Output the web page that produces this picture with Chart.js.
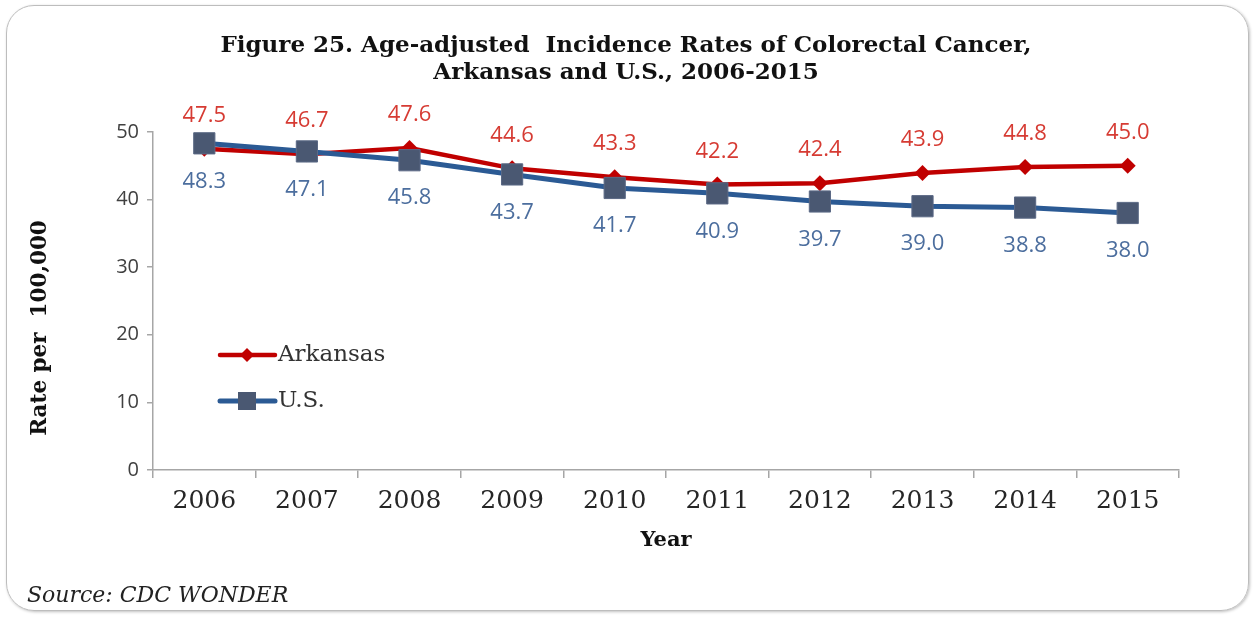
<!DOCTYPE html>
<html><head><meta charset="utf-8">
<script src="https://cdn.jsdelivr.net/npm/chart.js@4.4.1/dist/chart.umd.min.js"></script>
<style>
html,body{margin:0;padding:0;background:#fff;}
#wrap{position:relative;width:1255px;height:617px;overflow:hidden;}
#frame{position:absolute;left:6px;top:5px;width:1243px;height:606px;border:1.5px solid #bdbdbd;border-radius:28px;box-shadow:1px 1px 3px rgba(0,0,0,0.25);box-sizing:border-box;}
#c{position:absolute;left:0;top:0;}
#source{position:absolute;left:27px;top:582px;font-family:"DejaVu Serif";font-style:italic;font-size:22px;color:#222;white-space:nowrap;}
</style></head>
<body>
<div id="wrap">
  <div id="frame"></div>
  <canvas id="c" width="1255" height="617"></canvas>
  <div id="source"></div>
</div>
<script>
const years = ['2006','2007','2008','2009','2010','2011','2012','2013','2014','2015'];
const arkansas = [47.5, 46.7, 47.6, 44.6, 43.3, 42.2, 42.4, 43.9, 44.8, 45.0];
const us = [48.3, 47.1, 45.8, 43.7, 41.7, 40.9, 39.7, 39.0, 38.8, 38.0];
const seriesNames = ['Arkansas', 'U.S.'];
const yMin = 0, yMax = 50, yStep = 10;
const titleLines = ['Figure 25. Age-adjusted  Incidence Rates of Colorectal Cancer,', 'Arkansas and U.S., 2006-2015'];
const xTitle = 'Year';
const yTitle = 'Rate per  100,000';
const sourceText = 'Source: CDC WONDER';

document.getElementById('source').textContent = sourceText;

const RED = '#C00000', RED_LABEL = '#D63B33';
const BLUE = '#2B5A94', BLUE_MARK = '#4A5872', BLUE_LABEL = '#4C6E9E';

const labelPlugin = {
  id: 'valueLabels',
  afterDatasetsDraw(chart) {
    const ctx = chart.ctx;
    ctx.save();
    ctx.font = '22px "Open Sans"';
    ctx.textAlign = 'center';
    ctx.textBaseline = 'middle';
    chart.data.datasets.forEach((ds, i) => {
      const meta = chart.getDatasetMeta(i);
      const above = ds.labelPos === 'above';
      ctx.fillStyle = ds.labelColor;
      meta.data.forEach((pt, j) => {
        const v = ds.data[j];
        ctx.fillText(v.toFixed(1), pt.x, pt.y + (above ? -33 : 38));
      });
    });
    ctx.restore();
  }
};

const extrasPlugin = {
  id: 'extras',
  afterDraw(chart) {
    const ctx = chart.ctx;
    ctx.save();
    // y axis title
    ctx.translate(40, 328);
    ctx.rotate(-Math.PI / 2);
    ctx.font = 'bold 21.5px "DejaVu Serif"';
    ctx.fillStyle = '#111';
    ctx.textAlign = 'center';
    ctx.textBaseline = 'middle';
    ctx.fillText(yTitle, 0, 0);
    ctx.restore();

    // legend
    const items = chart.data.datasets.map((ds, i) => ({ds, i})).sort((a, b) => a.ds.legendRank - b.ds.legendRank);
    let ly = 355;
    items.forEach(({ds}) => {
      ctx.save();
      ctx.strokeStyle = ds.borderColor;
      ctx.lineWidth = ds.borderWidth;
      ctx.lineCap = 'round';
      ctx.beginPath();
      ctx.moveTo(220, ly);
      ctx.lineTo(275, ly);
      ctx.stroke();
      ctx.fillStyle = ds.pointBackgroundColor;
      ctx.beginPath();
      if (ds.pointStyle === 'rectRot') {
        const r = 7;
        ctx.moveTo(247, ly - r); ctx.lineTo(247 + r, ly); ctx.lineTo(247, ly + r); ctx.lineTo(247 - r, ly);
        ctx.closePath(); ctx.fill();
      } else {
        const h = 9;
        ctx.rect(247 - h, ly - h, 2 * h, 2 * h);
        ctx.fill();
      }
      ctx.font = '23px "DejaVu Serif"';
      ctx.fillStyle = '#333';
      ctx.textAlign = 'left';
      ctx.textBaseline = 'middle';
      ctx.fillText(ds.label, 278, ly);
      ctx.restore();
      ly += 46;
    });
  }
};

new Chart(document.getElementById('c'), {
  type: 'line',
  data: {
    labels: years,
    datasets: [
      {
        label: seriesNames[0], data: arkansas, order: 1, legendRank: 0,
        borderColor: RED, borderWidth: 4.5, pointStyle: 'rectRot', pointRadius: 8,
        pointBackgroundColor: RED, pointBorderColor: RED, pointBorderWidth: 0,
        labelPos: 'above', labelColor: RED_LABEL, tension: 0
      },
      {
        label: seriesNames[1], data: us, order: 0, legendRank: 1,
        borderColor: BLUE, borderWidth: 5, pointStyle: 'rect', pointRadius: 15,
        pointBackgroundColor: BLUE_MARK, pointBorderColor: '#5B6985', pointBorderWidth: 1,
        labelPos: 'below', labelColor: BLUE_LABEL, tension: 0
      }
    ]
  },
  options: {
    responsive: false,
    animation: false,
    devicePixelRatio: 1,
    layout: { padding: { left: 73, right: 76, top: 0, bottom: 57 } },
    plugins: {
      legend: { display: false },
      tooltip: { enabled: false },
      title: {
        display: true, text: titleLines, color: '#111',
        font: { family: 'DejaVu Serif', size: 23, weight: 'bold', lineHeight: 1.17 },
        padding: { top: 33, bottom: 45 }
      }
    },
    scales: {
      x: {
        offset: true,
        grid: { offset: true, drawOnChartArea: false, drawTicks: true, tickLength: 8, color: '#a6a6a6', lineWidth: 1.5 },
        border: { display: true, color: '#a6a6a6', width: 1.5 },
        ticks: { color: '#262626', font: { family: 'DejaVu Serif', size: 25 }, padding: 8, maxRotation: 0, autoSkip: false },
        title: { display: true, text: xTitle, color: '#111', font: { family: 'DejaVu Serif', size: 21, weight: 'bold' }, padding: { top: 0, bottom: 7 } },
        afterFit: s => { s.height = 90; }
      },
      y: {
        min: yMin, max: yMax,
        grid: { drawOnChartArea: false, drawTicks: true, tickLength: 6, color: '#a6a6a6', lineWidth: 1.5 },
        border: { display: true, color: '#a6a6a6', width: 1.5 },
        ticks: { stepSize: yStep, color: '#404040', font: { family: 'Open Sans', size: 20 }, padding: 8 },
        afterFit: s => { s.width = 80; }
      }
    }
  },
  plugins: [labelPlugin, extrasPlugin]
});
</script>
</body></html>
